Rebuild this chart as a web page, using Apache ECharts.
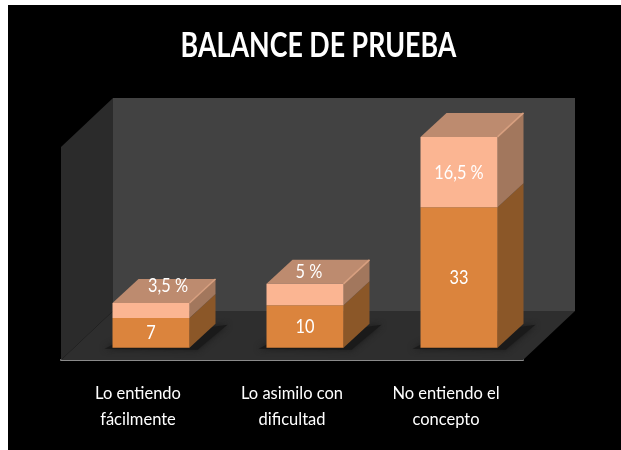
<!DOCTYPE html>
<html><head><meta charset="utf-8">
<style>
html,body{margin:0;padding:0;background:#fff;width:621px;height:450px;overflow:hidden}
#bg{position:absolute;left:8px;top:5px;width:613px;height:445px;background:#000}
#c{position:absolute;left:0;top:0;width:621px;height:450px}
</style>
<script src="https://cdn.jsdelivr.net/npm/echarts@6/dist/echarts.min.js"></script>
</head><body><div id="bg"></div><div id="c"></div>
<script>
const titulo = 'BALANCE DE PRUEBA';
const categorias = ['Lo entiendo\nfácilmente', 'Lo asimilo con\ndificultad', 'No entiendo el\nconcepto'];
const respuestas = [7, 10, 33];
const porcentajes = [3.5, 5, 16.5];
const etiquetasRespuestas = ['7', '10', '33'];
const etiquetasPorcentajes = ['3,5 %', '5 %', '16,5 %'];

// depth of the 3D box and of the room, and nudges of the top labels (px)
const boxDx = 26, boxDy = -24, roomDx = 52, roomDy = -49;
const pctNudge = [[17, -25], [4, -23], [0, 1]];

function poly(points, fill, extra) {
  return Object.assign({ type: 'polygon', shape: { points }, style: { fill } }, extra || {});
}
function renderRoom(params, api) {
  const g = params.coordSys;
  const L = g.x, R = g.x + g.width, T = g.y, B = g.y + g.height;
  return { type: 'group', silent: true, children: [
    poly([[L + roomDx, T + roomDy], [R + roomDx, T + roomDy], [R + roomDx, B + roomDy], [L + roomDx, B + roomDy]], '#424242'),
    poly([[L, T], [L + roomDx, T + roomDy], [L + roomDx, B + roomDy], [L, B]], '#2b2b2b'),
    poly([[L, B], [L + roomDx, B + roomDy], [R + roomDx, B + roomDy], [R, B]], '#2e2e2e')
  ] };
}
function renderBar(params, api) {
  const i = api.value(0), a = api.value(1), b = api.value(2);
  const band = api.size([1, 0])[0], w = band * 0.5;
  const ox = roomDx / 4, oy = roomDy / 4;
  const c0 = api.coord([i, 0]), c1 = api.coord([i, a]), c2 = api.coord([i, a + b]);
  const x0 = c0[0] - w / 2 + ox, x1 = x0 + w;
  const y0 = c0[1] + oy, y1 = c1[1] + oy, y2 = c2[1] + oy;
  const cx = (x0 + x1) / 2;
  const txt = (t, x, y) => ({ type: 'text', x, y, scaleX: 0.86,
    style: { text: t, x: 0, y: 0, fill: '#fff', font: '19px Lato', align: 'center', verticalAlign: 'middle' } });
  const n = pctNudge[i];
  return { type: 'group', silent: true, children: [
    poly([[x0 - 8, y0 + 1], [x0 + 10, y0 - 8], [x1 + boxDx + 12, y0 + boxDy + 1], [x1 + 8, y0 + 2]], '#1a1a1a', { style: { fill: '#1a1a1a', shadowBlur: 6, shadowColor: '#1a1a1a' } }),
    poly([[x1, y0], [x1 + boxDx, y0 + boxDy], [x1 + boxDx, y1 + boxDy], [x1, y1]], '#8b5728'),
    poly([[x1, y1], [x1 + boxDx, y1 + boxDy], [x1 + boxDx, y2 + boxDy], [x1, y2]], '#a2775d'),
    poly([[x0, y2], [x0 + boxDx, y2 + boxDy], [x1 + boxDx, y2 + boxDy], [x1, y2]], '#bd8b6f'),
    { type: 'polyline', shape: { points: [[x1, y2], [x1 + boxDx, y2 + boxDy]] }, style: { stroke: '#d8a080', lineWidth: 1.5, fill: null } },
    { type: 'rect', shape: { x: x0, y: y1, width: w, height: y0 - y1 }, style: { fill: '#db843d' } },
    { type: 'rect', shape: { x: x0, y: y2, width: w, height: y1 - y2 }, style: { fill: '#fbb592' } },
    txt(etiquetasRespuestas[i], cx, (y0 + y1) / 2),
    txt(etiquetasPorcentajes[i], cx + n[0], (y1 + y2) / 2 + n[1])
  ] };
}
const chart = echarts.init(document.getElementById('c'), null, { renderer: 'canvas' });
chart.setOption({
  animation: false,
  backgroundColor: 'transparent',
  graphic: [{ type: 'text', x: 318.5, y: 45.5, scaleX: 0.765, silent: true,
    style: { text: titulo, x: 0, y: 0, fill: '#fff', font: 'bold 35px Lato', align: 'center', verticalAlign: 'middle' } }],
  grid: { left: 61, right: 98, top: 147, bottom: 90 },
  xAxis: { type: 'category', data: categorias,
    axisLine: { show: true, onZero: false, lineStyle: { color: '#8a8a8a', width: 2 } },
    axisTick: { show: false },
    axisLabel: { color: '#fff', fontFamily: 'Lato', fontSize: 16.5, lineHeight: 26, margin: 21 } },
  yAxis: { type: 'value', min: 0, max: 50, show: false, splitLine: { show: false } },
  series: [
    { type: 'custom', z: 1, renderItem: renderRoom, coordinateSystem: 'cartesian2d', data: [[0, 0]], silent: true },
    { type: 'custom', z: 2, renderItem: renderBar, coordinateSystem: 'cartesian2d', silent: true,
      encode: { x: 0, y: [1, 2] },
      data: respuestas.map((v, i) => [i, v, porcentajes[i]]) }
  ]
});
</script></body></html>
